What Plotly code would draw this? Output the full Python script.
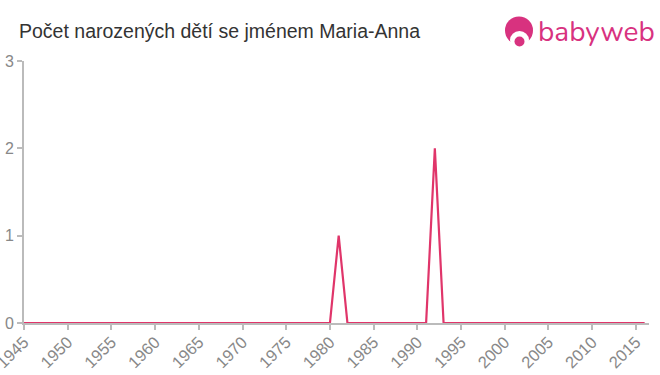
import plotly.graph_objects as go

years = [1945, 1980, 1981, 1982, 1991, 1992, 1993, 2016]
counts = [0, 0, 1, 0, 0, 2, 0, 0]
x_ticks = list(range(1945, 2020, 5))
y_ticks = [0, 1, 2, 3]

title_text = "Počet narozených dětí se jménem Maria-Anna"
line_color = "#e0356a"
logo_color = "#d8327f"

W, H = 660, 375
L, R, T, B = 24, 11, 61, 52
pw, ph = W - L - R, H - T - B

def px(x):
    return (x - L) / pw

def py(y):
    return (H - B - y) / ph

fig = go.Figure()
fig.add_trace(go.Scatter(x=years, y=counts, mode="lines",
                         line=dict(color=line_color, width=2.2),
                         hoverinfo="skip"))

shapes = [
    dict(type="circle", xref="paper", yref="paper",
         x0=px(505), x1=px(533), y0=py(16.5), y1=py(44.5),
         fillcolor=logo_color, line=dict(width=0), layer="above"),
    dict(type="circle", xref="paper", yref="paper",
         x0=px(510), x1=px(529), y0=py(31), y1=py(49),
         fillcolor="white", line=dict(width=0), layer="above"),
    dict(type="circle", xref="paper", yref="paper",
         x0=px(514.5), x1=px(524.5), y0=py(36.5), y1=py(46.5),
         fillcolor=logo_color, line=dict(width=0), layer="above"),
]

annotations = [
    dict(text=title_text, xref="paper", yref="paper",
         x=px(17), y=py(31), xanchor="left", yanchor="middle",
         showarrow=False, font=dict(size=19.5, color="#333333",
                                    family="Liberation Sans, Arial, sans-serif")),
    dict(text="babyweb", xref="paper", yref="paper",
         x=px(536), y=py(32), xanchor="left", yanchor="middle",
         showarrow=False, font=dict(size=28, color=logo_color,
                                    family="Nunito, Lato, Arial, sans-serif")),
]

fig.update_layout(
    width=W, height=H,
    margin=dict(l=L, r=R, t=T, b=B),
    paper_bgcolor="white", plot_bgcolor="white",
    showlegend=False,
    shapes=shapes,
    annotations=annotations,
    font=dict(family="Liberation Sans, Arial, sans-serif"),
    xaxis=dict(range=[1945, 2016.5], tickvals=x_ticks, tickangle=-45,
               automargin=False, ticklabeloverflow="allow",
               ticklabelstandoff=-4,
               showgrid=False, zeroline=False, showline=True,
               linecolor="#bbbbbb", linewidth=2,
               ticks="outside", ticklen=5, tickcolor="#bbbbbb", tickwidth=2,
               tickfont=dict(size=16.5, color="#888888"), fixedrange=True),
    yaxis=dict(range=[0, 3], tickvals=y_ticks, automargin=False,
               ticklabeloverflow="allow",
               showgrid=False, zeroline=False, showline=True,
               linecolor="#bbbbbb", linewidth=2,
               ticks="outside", ticklen=5, tickcolor="#bbbbbb", tickwidth=2,
               tickfont=dict(size=16, color="#888888"), fixedrange=True),
)

fig.write_html("out.html", config={"displayModeBar": False})
